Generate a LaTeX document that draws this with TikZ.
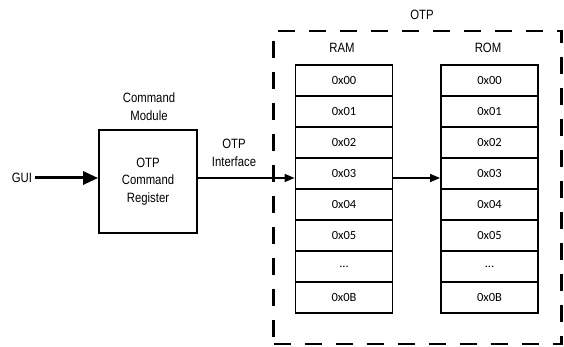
\documentclass[tikz,border=0pt]{standalone}
\usepackage{fontspec}
\setmainfont{Liberation Sans}[FakeStretch=0.84]
\newfontfamily\cellfont{Carlito}
\usetikzlibrary{arrows.meta}
\newcommand\mythreedots{...}
\begin{document}
\begin{tikzpicture}[x=1pt,y=-1pt,
  lbl/.style={font=\fontsize{13.5}{18}\selectfont, align=center, inner sep=0pt},
  cell/.style={draw, line width=1.8pt, minimum width=97pt, minimum height=31pt,
    font=\cellfont\fontsize{12.5}{14}\selectfont, inner sep=0pt},
  blockbox/.style={draw, line width=1.8pt, minimum width=98pt, minimum height=103pt,
    font=\fontsize{13.5}{17.5}\selectfont, align=center, inner sep=0pt},
  otpbox/.style={draw, line width=2.6pt, dash pattern=on 17pt off 14pt,
    minimum width=288pt, minimum height=313pt, inner sep=0pt},
  thickarrow/.style={line width=3pt, -{Triangle[length=15pt,width=13pt]}},
  thinarrow/.style={line width=1.4pt, -{Triangle[length=10pt,width=8pt]}}
]
\useasboundingbox (0,0) rectangle (564,347);
% OTP dashed region
\node[otpbox] (otp) at (417.5,187.5) {};
\node[lbl] (otptitle) at (422,15) {OTP};
\node[lbl] (ramtitle) at (342,48) {RAM};
\node[lbl] (romtitle) at (488,48) {ROM};
% memory cells
\foreach \lab [count=\i from 0] in {0x00,0x01,0x02,0x03,0x04,0x05,\mythreedots,0x0B} {
  \node[cell] (ram\i) at (344,80.5+31*\i) {\lab};
  \node[cell] (rom\i) at (489.5,80.5+31*\i) {\lab};
}
% command module
\node[lbl] (cmdlabel) at (149,107) {Command\\Module};
\node[blockbox] (cmd) at (148,181.5) {OTP\\Command\\Register};
\node[lbl, inner sep=3pt] (gui) at (22,178) {GUI};
\node[lbl] (iflabel) at (234,153) {OTP\\Interface};
% connectors
\draw[thickarrow] (gui.east) -- (cmd.west |- gui);
\draw[thinarrow] (cmd.east |- gui) -- (ram3.west |- gui);
\draw[thinarrow] (ram3.east |- gui) -- (rom3.west |- gui);
\end{tikzpicture}
\end{document}
